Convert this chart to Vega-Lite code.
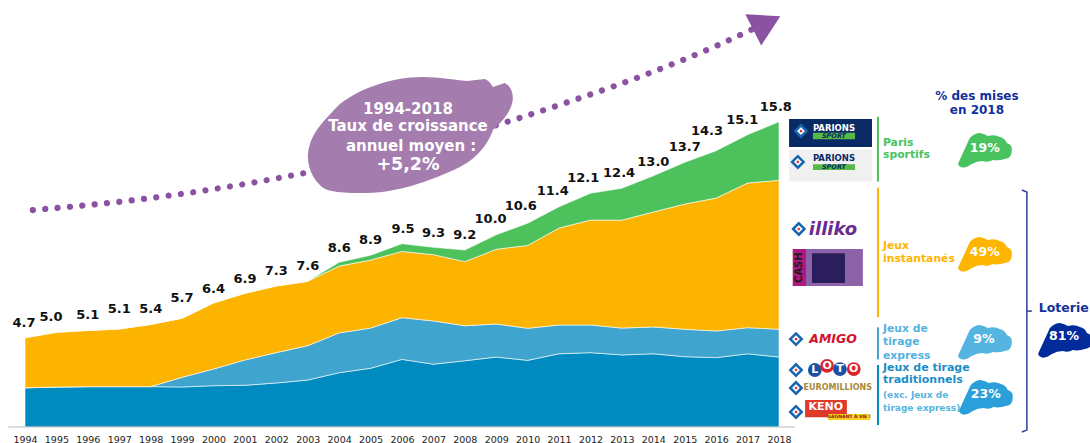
{
"$schema":"https://vega.github.io/schema/vega-lite/v6.json",
"width":754,"height":425,
"autosize":{"type":"none"},
"padding":{"left":25,"top":2,"right":311,"bottom":16},
"background":"#ffffff",
"config":{"view":{"stroke":null},"text":{"font":"DejaVu Sans"}},
"encoding":{
"x":{"field":"year","type":"quantitative","scale":{"domain":[1994,2018],"nice":false,"zero":false},
"axis":{"title":null,"values":[1994,1995,1996,1997,1998,1999,2000,2001,2002,2003,2004,2005,2006,2007,2008,2009,2010,2011,2012,2013,2014,2015,2016,2017,2018],"format":"d","domain":false,"ticks":false,"grid":false,"labelFont":"DejaVu Sans","labelFontSize":9.5,"labelColor":"#222222","labelPadding":7,"labelOverlap":false,"labelFlush":false}},
"y":{"field":"value","type":"quantitative","scale":{"domain":[0,22],"nice":false},"axis":null}
},
"layer":[
{"data":{"values":[{"year":1994,"game":"Traditionnels","rank":1,"value":2.03},{"year":1995,"game":"Traditionnels","rank":1,"value":2.07},{"year":1996,"game":"Traditionnels","rank":1,"value":2.09},{"year":1997,"game":"Traditionnels","rank":1,"value":2.09},{"year":1998,"game":"Traditionnels","rank":1,"value":2.09},{"year":1999,"game":"Traditionnels","rank":1,"value":2.07},{"year":2000,"game":"Traditionnels","rank":1,"value":2.14},{"year":2001,"game":"Traditionnels","rank":1,"value":2.16},{"year":2002,"game":"Traditionnels","rank":1,"value":2.28},{"year":2003,"game":"Traditionnels","rank":1,"value":2.43},{"year":2004,"game":"Traditionnels","rank":1,"value":2.81},{"year":2005,"game":"Traditionnels","rank":1,"value":3.04},{"year":2006,"game":"Traditionnels","rank":1,"value":3.5},{"year":2007,"game":"Traditionnels","rank":1,"value":3.25},{"year":2008,"game":"Traditionnels","rank":1,"value":3.43},{"year":2009,"game":"Traditionnels","rank":1,"value":3.62},{"year":2010,"game":"Traditionnels","rank":1,"value":3.45},{"year":2011,"game":"Traditionnels","rank":1,"value":3.79},{"year":2012,"game":"Traditionnels","rank":1,"value":3.85},{"year":2013,"game":"Traditionnels","rank":1,"value":3.73},{"year":2014,"game":"Traditionnels","rank":1,"value":3.79},{"year":2015,"game":"Traditionnels","rank":1,"value":3.64},{"year":2016,"game":"Traditionnels","rank":1,"value":3.59},{"year":2017,"game":"Traditionnels","rank":1,"value":3.79},{"year":2018,"game":"Traditionnels","rank":1,"value":3.62},
{"year":1994,"game":"Express","rank":2,"value":0},{"year":1995,"game":"Express","rank":2,"value":0},{"year":1996,"game":"Express","rank":2,"value":0},{"year":1997,"game":"Express","rank":2,"value":0},{"year":1998,"game":"Express","rank":2,"value":0},{"year":1999,"game":"Express","rank":2,"value":0.5},{"year":2000,"game":"Express","rank":2,"value":0.86},{"year":2001,"game":"Express","rank":2,"value":1.31},{"year":2002,"game":"Express","rank":2,"value":1.57},{"year":2003,"game":"Express","rank":2,"value":1.78},{"year":2004,"game":"Express","rank":2,"value":2.06},{"year":2005,"game":"Express","rank":2,"value":2.08},{"year":2006,"game":"Express","rank":2,"value":2.16},{"year":2007,"game":"Express","rank":2,"value":2.24},{"year":2008,"game":"Express","rank":2,"value":1.81},{"year":2009,"game":"Express","rank":2,"value":1.71},{"year":2010,"game":"Express","rank":2,"value":1.66},{"year":2011,"game":"Express","rank":2,"value":1.49},{"year":2012,"game":"Express","rank":2,"value":1.43},{"year":2013,"game":"Express","rank":2,"value":1.39},{"year":2014,"game":"Express","rank":2,"value":1.39},{"year":2015,"game":"Express","rank":2,"value":1.42},{"year":2016,"game":"Express","rank":2,"value":1.38},{"year":2017,"game":"Express","rank":2,"value":1.35},{"year":2018,"game":"Express","rank":2,"value":1.44},
{"year":1994,"game":"Instantanés","rank":3,"value":2.59},{"year":1995,"game":"Instantanés","rank":3,"value":2.83},{"year":1996,"game":"Instantanés","rank":3,"value":2.91},{"year":1997,"game":"Instantanés","rank":3,"value":2.98},{"year":1998,"game":"Instantanés","rank":3,"value":3.22},{"year":1999,"game":"Instantanés","rank":3,"value":3.06},{"year":2000,"game":"Instantanés","rank":3,"value":3.42},{"year":2001,"game":"Instantanés","rank":3,"value":3.45},{"year":2002,"game":"Instantanés","rank":3,"value":3.45},{"year":2003,"game":"Instantanés","rank":3,"value":3.33},{"year":2004,"game":"Instantanés","rank":3,"value":3.46},{"year":2005,"game":"Instantanés","rank":3,"value":3.52},{"year":2006,"game":"Instantanés","rank":3,"value":3.43},{"year":2007,"game":"Instantanés","rank":3,"value":3.43},{"year":2008,"game":"Instantanés","rank":3,"value":3.32},{"year":2009,"game":"Instantanés","rank":3,"value":3.87},{"year":2010,"game":"Instantanés","rank":3,"value":4.29},{"year":2011,"game":"Instantanés","rank":3,"value":5.02},{"year":2012,"game":"Instantanés","rank":3,"value":5.43},{"year":2013,"game":"Instantanés","rank":3,"value":5.59},{"year":2014,"game":"Instantanés","rank":3,"value":5.95},{"year":2015,"game":"Instantanés","rank":3,"value":6.48},{"year":2016,"game":"Instantanés","rank":3,"value":6.88},{"year":2017,"game":"Instantanés","rank":3,"value":7.49},{"year":2018,"game":"Instantanés","rank":3,"value":7.71},
{"year":1994,"game":"Paris sportifs","rank":4,"value":0},{"year":1995,"game":"Paris sportifs","rank":4,"value":0},{"year":1996,"game":"Paris sportifs","rank":4,"value":0},{"year":1997,"game":"Paris sportifs","rank":4,"value":0},{"year":1998,"game":"Paris sportifs","rank":4,"value":0},{"year":1999,"game":"Paris sportifs","rank":4,"value":0},{"year":2000,"game":"Paris sportifs","rank":4,"value":0},{"year":2001,"game":"Paris sportifs","rank":4,"value":0},{"year":2002,"game":"Paris sportifs","rank":4,"value":0},{"year":2003,"game":"Paris sportifs","rank":4,"value":0},{"year":2004,"game":"Paris sportifs","rank":4,"value":0.2},{"year":2005,"game":"Paris sportifs","rank":4,"value":0.25},{"year":2006,"game":"Paris sportifs","rank":4,"value":0.4},{"year":2007,"game":"Paris sportifs","rank":4,"value":0.38},{"year":2008,"game":"Paris sportifs","rank":4,"value":0.6},{"year":2009,"game":"Paris sportifs","rank":4,"value":0.75},{"year":2010,"game":"Paris sportifs","rank":4,"value":1.15},{"year":2011,"game":"Paris sportifs","rank":4,"value":1.1},{"year":2012,"game":"Paris sportifs","rank":4,"value":1.39},{"year":2013,"game":"Paris sportifs","rank":4,"value":1.65},{"year":2014,"game":"Paris sportifs","rank":4,"value":1.87},{"year":2015,"game":"Paris sportifs","rank":4,"value":2.16},{"year":2016,"game":"Paris sportifs","rank":4,"value":2.45},{"year":2017,"game":"Paris sportifs","rank":4,"value":2.5},{"year":2018,"game":"Paris sportifs","rank":4,"value":3.03}]},
"mark":{"type":"area","stroke":"#ffffff","strokeWidth":0.8,"strokeOpacity":0.75,"opacity":1},
"encoding":{"y":{"field":"value","type":"quantitative","stack":"zero","scale":{"domain":[0,22],"nice":false},"axis":null},
"order":{"field":"rank","type":"quantitative"},
"color":{"field":"game","type":"nominal","legend":null,"scale":{"domain":["Traditionnels","Express","Instantanés","Paris sportifs","Parions point de vente","Parions en ligne","Sport","Ticket","Ticket bord","Ticket grille","Keno","Keno bande"],"range":["#008BC0","#3FA4CE","#FDB400","#4CC15C","#0A2A66","#F0F0F0","#57B947","#8E62A8","#B0177F","#2A1E5C","#E03A2B","#F7D21E"]}}}},
{"data":{"values":[{"year":1993.46,"year2":2018.51,"value":0}]},"mark":{"type":"rule","color":"#bdbdbd","strokeWidth":1},"encoding":{"x2":{"field":"year2"}}},
{"data":{"values":[{"year":1993.97,"value":5.38,"label":"4.7"},{"year":1994.83,"value":5.69,"label":"5.0"},{"year":1996,"value":5.8,"label":"5.1"},{"year":1997,"value":6.11,"label":"5.1"},{"year":1998,"value":6.11,"label":"5.4"},{"year":1999,"value":6.68,"label":"5.7"},{"year":2000,"value":7.14,"label":"6.4"},{"year":2001,"value":7.66,"label":"6.9"},{"year":2002,"value":8.07,"label":"7.3"},{"year":2003,"value":8.33,"label":"7.6"},{"year":2004,"value":9.27,"label":"8.6"},{"year":2005,"value":9.68,"label":"8.9"},{"year":2006.03,"value":10.25,"label":"9.5"},{"year":2007,"value":10.06,"label":"9.3"},{"year":2008,"value":9.94,"label":"9.2"},{"year":2008.82,"value":10.75,"label":"10.0"},{"year":2009.78,"value":11.44,"label":"10.6"},{"year":2010.8,"value":12.22,"label":"11.4"},{"year":2011.77,"value":12.87,"label":"12.1"},{"year":2012.91,"value":13.13,"label":"12.4"},{"year":2014,"value":13.73,"label":"13.0"},{"year":2015,"value":14.48,"label":"13.7"},{"year":2015.71,"value":15.34,"label":"14.3"},{"year":2016.83,"value":15.89,"label":"15.1"},{"year":2017.9,"value":16.58,"label":"15.8"}]},
"mark":{"type":"text","font":"DejaVu Sans","fontWeight":"bold","fontSize":13,"color":"#111111","baseline":"middle"},"encoding":{"text":{"field":"label"}}},
{"data":{"values":[{"year":1994.25,"value":11.23},{"year":1997.5,"value":11.75},{"year":2001,"value":12.58},{"year":2002.24,"value":12.94},{"year":2009.25,"value":15.75},{"year":2011.54,"value":16.96},{"year":2013.8,"value":18.27},{"year":2016.02,"value":19.74},{"year":2017.3,"value":20.7}]},
"mark":{"type":"line","color":"#8B52A1","strokeWidth":6.2,"strokeCap":"round","strokeDash":[0.01,12.4],"interpolate":"monotone"}},
{"data":{"values":[{"year":2017.46,"value":20.53}]},"mark":{"type":"point","filled":true,"opacity":1,"color":"#8B52A1","shape":"triangle-down","size":1225,"angle":3}},
{"data":{"values":[{"year":2006.25,"value":15.11}]},"mark":{"type":"point","filled":true,"opacity":1,"color":"#A47DAE","size":4,"shape":"M13,-58 C30,-58 45,-55 57,-54 L75,-56 Q79,-55 83,-48 L95,-52 Q103,-48 103,-36 Q102,-22 83,-5 C80,5 70,22 50,32 C30,42 -10,58 -43,58 C-65,58 -83,58 -90,50 C-98,42 -102,32 -102,20 C-100,0 -90,-10 -73,-28 C-55,-45 -20,-58 13,-58 Z"}},
{"data":{"values":[{"year":2006.19,"value":16.46,"label":"1994-2018"},{"year":2006.19,"value":15.58,"label":"Taux de croissance"},{"year":2006.29,"value":14.54,"label":"annuel moyen :"}]},
"mark":{"type":"text","font":"DejaVu Sans","fontWeight":"bold","fontSize":15,"color":"#ffffff","baseline":"middle"},"encoding":{"text":{"field":"label"}}},
{"data":{"values":[{"year":2006.19,"value":13.56,"label":"+5,2%"}]},
"mark":{"type":"text","font":"DejaVu Sans","fontWeight":"bold","fontSize":17.5,"color":"#ffffff","baseline":"middle"},"encoding":{"text":{"field":"label"}}},
{"data":{"values":[{"year":2021.15,"value":16.06,"value2":12.7,"game":"Paris sportifs"},{"year":2021.15,"value":12.39,"value2":5.68,"game":"Instantanés"},{"year":2021.15,"value":5.16,"value2":3.5,"game":"Express"},{"year":2021.15,"value":3.21,"value2":0.1,"game":"Traditionnels"}]},
"mark":{"type":"rule","strokeWidth":2},"encoding":{"y2":{"field":"value2"},"color":{"field":"game","type":"nominal","legend":null}}},
{"data":{"values":[{"year":2025.73,"value":12.27,"step":1},{"year":2025.89,"value":12.16,"step":2},{"year":2025.89,"value":-0.16,"step":3},{"year":2025.73,"value":-0.26,"step":4}]},
"mark":{"type":"line","color":"#2A3F9E","strokeWidth":1.5},"encoding":{"order":{"field":"step","type":"quantitative"}}},
{"data":{"values":[{"year":2025.89,"year2":2026.05,"value":6.0}]},"mark":{"type":"rule","color":"#2A3F9E","strokeWidth":1.5},"encoding":{"x2":{"field":"year2"}}},
{"data":{"values":[{"year":2024.55,"value":14.34}]},"mark":{"type":"point","filled":true,"opacity":1,"color":"#48C35F","size":4,"shape":"M-26,12 L-15,-12 Q-10,-17 -5,-17 Q0,-16 3,-14 Q10,-16 15,-13 Q20,-12 22,-7 Q28,-5 27,1 Q27,8 20,9 Q14,11 8,10 Q3,13 -2,11 Q-8,11 -13,14 Q-20,19 -24,17 Q-28,15 -26,12 Z"}},
{"data":{"values":[{"year":2024.55,"value":8.95}]},"mark":{"type":"point","filled":true,"opacity":1,"color":"#FDB500","size":4,"shape":"M-26,12 L-15,-12 Q-10,-17 -5,-17 Q0,-16 3,-14 Q10,-16 15,-13 Q20,-12 22,-7 Q28,-5 27,1 Q27,8 20,9 Q14,11 8,10 Q3,13 -2,11 Q-8,11 -13,14 Q-20,19 -24,17 Q-28,15 -26,12 Z"}},
{"data":{"values":[{"year":2024.55,"value":4.4}]},"mark":{"type":"point","filled":true,"opacity":1,"color":"#55B4E0","size":4,"shape":"M-26,12 L-15,-12 Q-10,-17 -5,-17 Q0,-16 3,-14 Q10,-16 15,-13 Q20,-12 22,-7 Q28,-5 27,1 Q27,8 20,9 Q14,11 8,10 Q3,13 -2,11 Q-8,11 -13,14 Q-20,19 -24,17 Q-28,15 -26,12 Z"}},
{"data":{"values":[{"year":2024.58,"value":1.55}]},"mark":{"type":"point","filled":true,"opacity":1,"color":"#2B9FD9","size":4,"shape":"M-26,12 L-15,-12 Q-10,-17 -5,-17 Q0,-16 3,-14 Q10,-16 15,-13 Q20,-12 22,-7 Q28,-5 27,1 Q27,8 20,9 Q14,11 8,10 Q3,13 -2,11 Q-8,11 -13,14 Q-20,19 -24,17 Q-28,15 -26,12 Z"}},
{"data":{"values":[{"year":2027.1,"value":4.5}]},"mark":{"type":"point","filled":true,"opacity":1,"color":"#012A9B","size":4,"shape":"M-26,12 L-15,-12 Q-10,-17 -5,-17 Q0,-16 3,-14 Q10,-16 15,-13 Q20,-12 22,-7 Q28,-5 27,1 Q27,8 20,9 Q14,11 8,10 Q3,13 -2,11 Q-8,11 -13,14 Q-20,19 -24,17 Q-28,15 -26,12 Z"}},
{"data":{"values":[{"year":2024.55,"value":14.44,"label":"19%"},{"year":2024.55,"value":9.06,"label":"49%"},{"year":2024.52,"value":4.55,"label":"9%"},{"year":2024.58,"value":1.71,"label":"23%"},{"year":2027.07,"value":4.71,"label":"81%"}]},
"mark":{"type":"text","font":"DejaVu Sans","fontWeight":"bold","fontSize":12.5,"color":"#ffffff","baseline":"middle"},"encoding":{"text":{"field":"label"}}},
{"data":{"values":[{"year":2021.31,"value":14.72,"label":"Paris"},{"year":2021.31,"value":14.06,"label":"sportifs"}]},
"mark":{"type":"text","font":"DejaVu Sans","fontWeight":"bold","fontSize":10.8,"color":"#48C35F","align":"left","baseline":"middle"},"encoding":{"text":{"field":"label"}}},
{"data":{"values":[{"year":2021.31,"value":9.37,"label":"Jeux"},{"year":2021.31,"value":8.7,"label":"instantanés"}]},
"mark":{"type":"text","font":"DejaVu Sans","fontWeight":"bold","fontSize":10.8,"color":"#FDB500","align":"left","baseline":"middle"},"encoding":{"text":{"field":"label"}}},
{"data":{"values":[{"year":2021.31,"value":5.06,"label":"Jeux de"},{"year":2021.31,"value":4.38,"label":"tirage"},{"year":2021.31,"value":3.68,"label":"express"}]},
"mark":{"type":"text","font":"DejaVu Sans","fontWeight":"bold","fontSize":10.8,"color":"#53B3DF","align":"left","baseline":"middle"},"encoding":{"text":{"field":"label"}}},
{"data":{"values":[{"year":2021.31,"value":3.04,"label":"Jeux de tirage"},{"year":2021.31,"value":2.42,"label":"traditionnels"}]},
"mark":{"type":"text","font":"DejaVu Sans","fontWeight":"bold","fontSize":11,"color":"#1B8EC8","align":"left","baseline":"middle"},"encoding":{"text":{"field":"label"}}},
{"data":{"values":[{"year":2021.31,"value":1.67,"label":"(exc. Jeux de"},{"year":2021.31,"value":0.98,"label":"tirage express)"}]},
"mark":{"type":"text","font":"DejaVu Sans","fontWeight":"bold","fontSize":9,"color":"#55B4E0","align":"left","baseline":"middle"},"encoding":{"text":{"field":"label"}}},
{"data":{"values":[{"year":2024.3,"value":17.15,"label":"% des mises"},{"year":2024.3,"value":16.41,"label":"en 2018"}]},
"mark":{"type":"text","font":"DejaVu Sans","fontWeight":"bold","fontSize":12,"color":"#12309B","baseline":"middle"},"encoding":{"text":{"field":"label"}}},
{"data":{"values":[{"year":2026.27,"value":6.16,"label":"Loterie"}]},
"mark":{"type":"text","font":"DejaVu Sans","fontWeight":"bold","fontSize":12.5,"color":"#12309B","align":"left","baseline":"middle"},"encoding":{"text":{"field":"label"}}},
{"data":{"values":[{"year":2018.32,"year2":2020.96,"value":15.94,"value2":14.49,"game":"Parions point de vente"},{"year":2018.32,"year2":2020.96,"value":14.36,"value2":12.71,"game":"Parions en ligne"},{"year":2019.08,"year2":2020.42,"value":15.23,"value2":14.89,"game":"Sport"},{"year":2019.08,"year2":2020.42,"value":13.6,"value2":13.3,"game":"Sport"},{"year":2018.44,"year2":2020.67,"value":9.21,"value2":7.3,"game":"Ticket"},{"year":2018.44,"year2":2018.86,"value":9.21,"value2":7.3,"game":"Ticket bord"},{"year":2019.05,"year2":2020.1,"value":9.0,"value2":7.45,"game":"Ticket grille"},{"year":2018.83,"year2":2020.16,"value":1.4,"value2":0.5,"game":"Keno"},{"year":2019.56,"year2":2020.9,"value":0.67,"value2":0.36,"game":"Keno bande"}]},
"mark":{"type":"rect"},"encoding":{"x2":{"field":"year2"},"y2":{"field":"value2"},"color":{"field":"game","type":"nominal","legend":null}}},
{"data":{"values":[{"year":2018.7,"value":15.32},{"year":2018.6,"value":13.72},{"year":2018.63,"value":10.25},{"year":2018.54,"value":4.55},{"year":2018.54,"value":2.95},{"year":2018.54,"value":2.02},{"year":2018.54,"value":0.78}]},
"mark":{"type":"point","filled":true,"opacity":1,"shape":"diamond","size":130,"fill":"#ffffff","stroke":"#1565B0","strokeWidth":2.5}},
{"data":{"values":[{"year":2018.7,"value":15.32},{"year":2018.6,"value":13.72},{"year":2018.63,"value":10.25},{"year":2018.54,"value":4.55},{"year":2018.54,"value":2.95},{"year":2018.54,"value":2.02},{"year":2018.54,"value":0.78}]},
"mark":{"type":"point","filled":true,"opacity":1,"shape":"diamond","size":10,"color":"#D8232A"}},
{"data":{"values":[{"year":2019.14,"value":2.95},{"year":2019.94,"value":3.0}]},"mark":{"type":"point","filled":true,"opacity":1,"shape":"circle","size":190,"color":"#1F4FA0"}},
{"data":{"values":[{"year":2019.53,"value":3.16},{"year":2020.38,"value":3.0}]},"mark":{"type":"point","filled":true,"opacity":1,"shape":"circle","size":190,"color":"#D8232A"}},
{"data":{"values":[{"year":2019.14,"value":2.95,"label":"L"},{"year":2019.53,"value":3.16,"label":"O"},{"year":2019.94,"value":3.0,"label":"T"},{"year":2020.38,"value":3.0,"label":"O"}]},"mark":{"type":"text","font":"DejaVu Sans","fontWeight":"bold","fontSize":11,"color":"#ffffff","baseline":"middle"},"encoding":{"text":{"field":"label"}}},
{"data":{"values":[{"year":2019.75,"value":15.48,"label":"PARIONS"}]},"mark":{"type":"text","font":"DejaVu Sans","fontWeight":"bold","fontSize":8.5,"color":"#ffffff","baseline":"middle"},"encoding":{"text":{"field":"label"}}},
{"data":{"values":[{"year":2019.75,"value":13.9,"label":"PARIONS"}]},"mark":{"type":"text","font":"DejaVu Sans","fontWeight":"bold","fontSize":8.5,"color":"#0A2A66","baseline":"middle"},"encoding":{"text":{"field":"label"}}},
{"data":{"values":[{"year":2019.75,"value":15.06,"label":"SPORT"},{"year":2019.75,"value":13.46,"label":"SPORT"}]},"mark":{"type":"text","font":"DejaVu Sans","fontWeight":"bold","fontStyle":"italic","fontSize":6.5,"color":"#0A2A66","baseline":"middle"},"encoding":{"text":{"field":"label"}}},
{"data":{"values":[{"year":2019.72,"value":10.2,"label":"illiko"}]},"mark":{"type":"text","font":"DejaVu Sans","fontWeight":"bold","fontStyle":"italic","fontSize":18,"color":"#6A2C91","baseline":"middle"},"encoding":{"text":{"field":"label"}}},
{"data":{"values":[{"year":2018.65,"value":8.25,"label":"CASH"}]},"mark":{"type":"text","font":"DejaVu Sans","fontWeight":"bold","fontSize":10,"color":"#1d1d1d","angle":270,"baseline":"middle"},"encoding":{"text":{"field":"label"}}},
{"data":{"values":[{"year":2019.72,"value":4.55,"label":"AMIGO"}]},"mark":{"type":"text","font":"DejaVu Sans","fontWeight":"bold","fontStyle":"italic","fontSize":12.5,"color":"#D4122A","baseline":"middle"},"encoding":{"text":{"field":"label"}}},
{"data":{"values":[{"year":2019.87,"value":2.02,"label":"EUROMILLIONS"}]},"mark":{"type":"text","font":"DejaVu Sans","fontWeight":"bold","fontSize":8,"color":"#A98A3A","baseline":"middle"},"encoding":{"text":{"field":"label"}}},
{"data":{"values":[{"year":2019.49,"value":1.02,"label":"KENO"}]},"mark":{"type":"text","font":"DejaVu Sans","fontWeight":"bold","fontSize":11,"color":"#ffffff","baseline":"middle"},"encoding":{"text":{"field":"label"}}},
{"data":{"values":[{"year":2020.23,"value":0.5,"label":"GAGNANT À VIE !"}]},"mark":{"type":"text","font":"DejaVu Sans","fontWeight":"bold","fontSize":4.5,"color":"#8a1a1a","baseline":"middle"},"encoding":{"text":{"field":"label"}}}
]
}
